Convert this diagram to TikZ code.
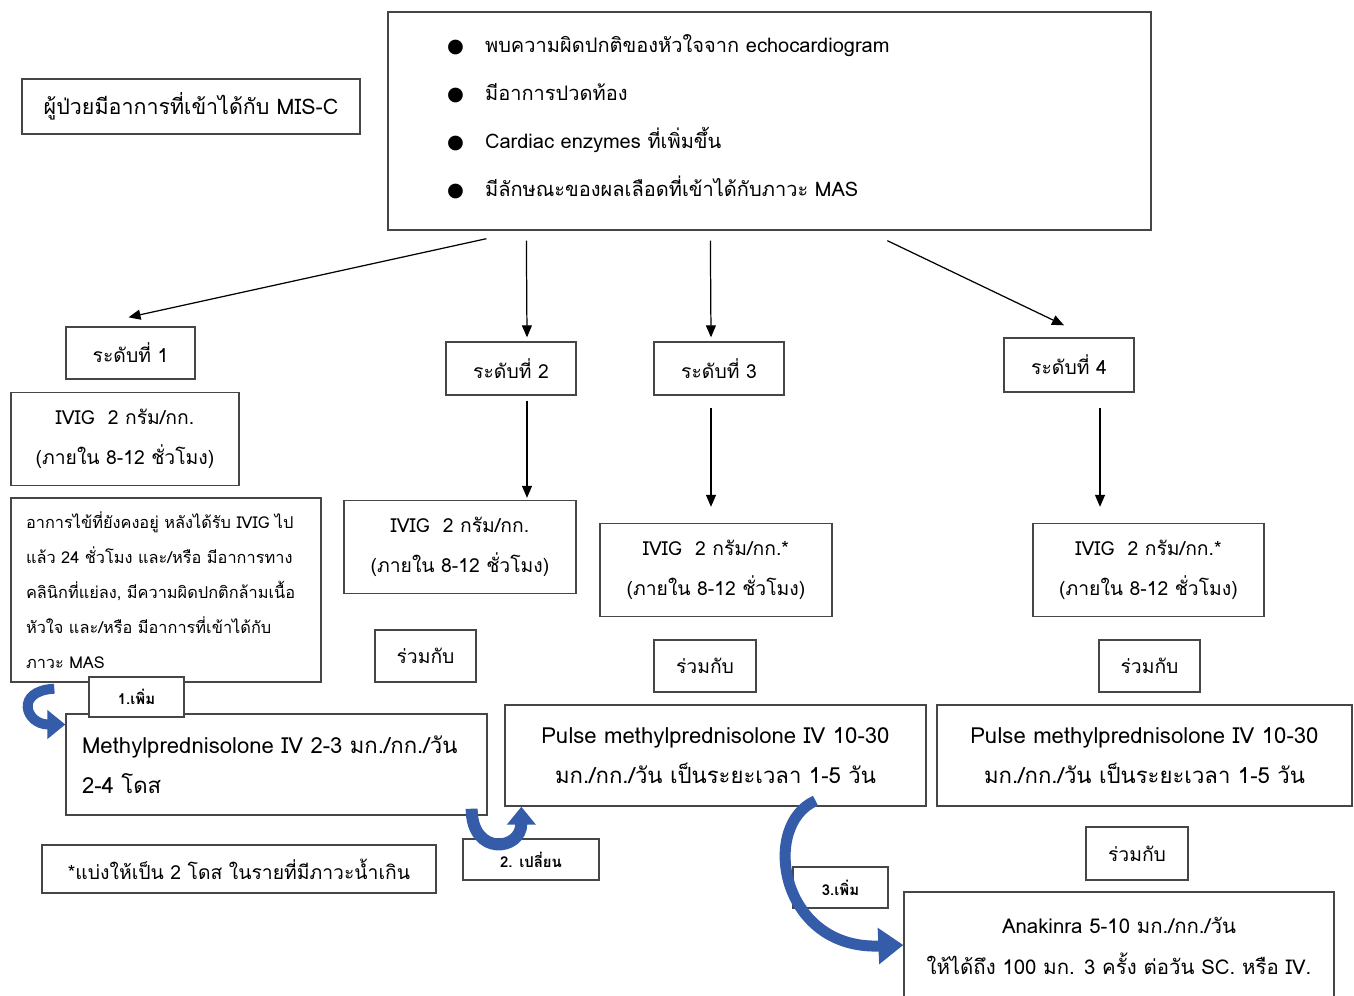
\documentclass[tikz,border=0pt]{standalone}
\usepackage{fontspec}
\setmainfont[Script=Thai]{Loma}
\newfontfamily\symfont{DejaVu Sans}
\usetikzlibrary{arrows.meta,calc}
\definecolor{MSblue}{RGB}{52,92,168}
\definecolor{MSline}{RGB}{70,70,70}
\newcommand{\bul}{\makebox[0.76cm][l]{\symfont\fontsize{11}{11}\selectfont ●}}
\tikzset{
  box/.style={draw=MSline,line width=0.8pt,align=center,inner sep=0pt,
              font=\fontsize{11}{23}\selectfont},
  wide/.style={box,font=\fontsize{12.6}{23}\selectfont},
  lvbox/.style={box,font=\fontsize{11}{13}\selectfont},
  tagbox/.style={box,font=\fontsize{8.5}{10}\selectfont\bfseries},
  arr/.style={-{Triangle[length=2.4mm,width=2mm]},line width=0.7pt,draw=black},
  curlarr/.style={-{Triangle[length=3.6mm,width=5.6mm]},line width=2mm,draw=MSblue}
}
\begin{document}
\begin{tikzpicture}[x=0.02cm,y=-0.02cm]
  \useasboundingbox (0,0) rectangle (1354,995);
  % header boxes
  \node[box,minimum width=6.76cm,minimum height=1.1cm,font=\fontsize{12.2}{15}\selectfont] (misc) at (191,106.5) {ผู้ป่วยมีอาการที่เข้าได้กับ MIS-C};
  \node[box,minimum width=15.26cm,minimum height=4.36cm,text width=12.9cm,inner xsep=1.18cm,align=left,font=\fontsize{11.4}{27.3}\selectfont] (top) at (769.5,121)
    {\raisebox{0.12cm}[\height][\depth]{\begin{tabular}{@{}l@{}}
     \bul พบความผิดปกติของหัวใจจาก echocardiogram\\
     \bul มีอาการปวดท้อง\\
     \bul Cardiac enzymes ที่เพิ่มขึ้น\\
     \bul มีลักษณะของผลเลือดที่เข้าได้กับภาวะ MAS
     \end{tabular}}};
  % levels
  \node[lvbox,minimum width=2.58cm,minimum height=1.04cm] (lv1) at (130.5,353) {ระดับที่ 1};
  \node[lvbox,minimum width=2.6cm,minimum height=1.06cm] (lv2) at (511,368.5) {ระดับที่ 2};
  \node[lvbox,minimum width=2.6cm,minimum height=1.06cm] (lv3) at (719,368.5) {ระดับที่ 3};
  \node[lvbox,minimum width=2.6cm,minimum height=1.08cm] (lv4) at (1069,365) {ระดับที่ 4};
  % level 1
  \node[box,minimum width=4.56cm,minimum height=1.86cm] (ivig1) at (125,439) {IVIG~~2 กรัม/กก.\\(ภายใน 8-12 ชั่วโมง)};
  \node[box,minimum width=6.2cm,minimum height=3.68cm,text width=5.6cm,inner xsep=0.3cm,align=left,font=\fontsize{9.3}{19.9}\selectfont] (cond) at (166,590)
    {อาการไข้ที่ยังคงอยู่ หลังได้รับ IVIG ไป\\
     แล้ว 24 ชั่วโมง และ/หรือ มีอาการทาง\\
     คลินิกที่แย่ลง, มีความผิดปกติกล้ามเนื้อ\\
     หัวใจ และ/หรือ มีอาการที่เข้าได้กับ\\
     ภาวะ MAS};
  \node[wide,minimum width=8.42cm,minimum height=2.02cm,text width=7.78cm,inner xsep=0.32cm,align=left,fill=white] (methyl) at (276.5,764.5)
    {Methylprednisolone IV 2-3 มก./กก./วัน\\2-4 โดส};
  \node[tagbox,minimum width=1.9cm,minimum height=0.8cm,fill=white] (add1) at (136.5,697) {1.เพิ่ม};
  \node[box,minimum width=7.88cm,minimum height=0.96cm] (note) at (239,869) {*แบ่งให้เป็น 2 โดส ในรายที่มีภาวะน้ำเกิน};
  % level 2
  \node[box,minimum width=4.64cm,minimum height=1.86cm] (ivig2) at (460,547) {IVIG~~2 กรัม/กก.\\(ภายใน 8-12 ชั่วโมง)};
  \node[lvbox,minimum width=2.02cm,minimum height=1.04cm] (with2) at (425.5,656) {ร่วมกับ};
  % level 3
  \node[box,minimum width=4.64cm,minimum height=1.86cm] (ivig3) at (716,570) {IVIG~~2 กรัม/กก.*\\(ภายใน 8-12 ชั่วโมง)};
  \node[lvbox,minimum width=2.04cm,minimum height=1.04cm] (with3) at (705,666) {ร่วมกับ};
  \node[wide,minimum width=8.42cm,minimum height=2.02cm] (pulse3) at (715.5,755.5) {Pulse methylprednisolone IV 10-30\\มก./กก./วัน เป็นระยะเวลา 1-5 วัน};
  \node[tagbox,minimum width=2.72cm,minimum height=0.82cm] (change2) at (531,859.5) {2. เปลี่ยน};
  % level 4
  \node[box,minimum width=4.62cm,minimum height=1.86cm] (ivig4) at (1148.5,570) {IVIG~~2 กรัม/กก.*\\(ภายใน 8-12 ชั่วโมง)};
  \node[lvbox,minimum width=2.02cm,minimum height=1.04cm] (with4) at (1149.5,666) {ร่วมกับ};
  \node[wide,minimum width=8.3cm,minimum height=2.02cm] (pulse4) at (1144.5,755.5) {Pulse methylprednisolone IV 10-30\\มก./กก./วัน เป็นระยะเวลา 1-5 วัน};
  \node[lvbox,minimum width=2.04cm,minimum height=1.06cm] (with5) at (1137,853.5) {ร่วมกับ};
  \node[box,minimum width=8.6cm,minimum height=2.16cm,fill=white,font=\fontsize{11.6}{23}\selectfont] (anak) at (1119,946) {Anakinra 5-10 มก./กก./วัน\\ให้ได้ถึง 100 มก. 3 ครั้ง ต่อวัน SC. หรือ IV.};
  \node[tagbox,minimum width=1.9cm,minimum height=0.82cm] (add3) at (840.5,887.5) {3.เพิ่ม};
  % straight arrows
  \draw[arr] ([shift={(99,8)}]top.south west) -- ([shift={(-2,-9)}]lv1.north);
  \draw[arr] ([shift={(139,10)}]top.south west) -- ([shift={(16,-4)}]lv2.north);
  \draw[arr] ([shift={(323,10)}]top.south west) -- ([shift={(-8,-4)}]lv3.north);
  \draw[arr] ([shift={(500,10)}]top.south west) -- ([shift={(-5,-12)}]lv4.north);
  \draw[arr] ([shift={(16,5)}]lv2.south) -- ([shift={(67,-2)}]ivig2.north);
  \draw[arr] ([shift={(-8,12)}]lv3.south) -- ([shift={(-5,-16)}]ivig3.north);
  \draw[arr] ([shift={(31,15)}]lv4.south) -- ([shift={(-48.5,-16)}]ivig4.north);
  % curved block arrows
  \coordinate (c1) at ([shift={(44,6)}]cond.south west);
  \coordinate (c2) at ([shift={(-16,-7)}]methyl.south east);
  \coordinate (c3) at ([shift={(100,-6)}]pulse3.south);
  \draw[curlarr] (c1) .. controls +(-40,2) and +(-40,0) .. ([shift={(0,-40)}]methyl.west);
  \draw[curlarr,line width=2.4mm] (c2) .. controls +(0,48) and +(0,44) .. ([shift={(17,0)}]pulse3.south west);
  \draw[curlarr,line width=2.2mm,-{Triangle[length=5mm,width=7mm]}] (c3) .. controls (760,825) and (780,950) .. ([shift={(0,-1)}]anak.west);
\end{tikzpicture}
\end{document}
